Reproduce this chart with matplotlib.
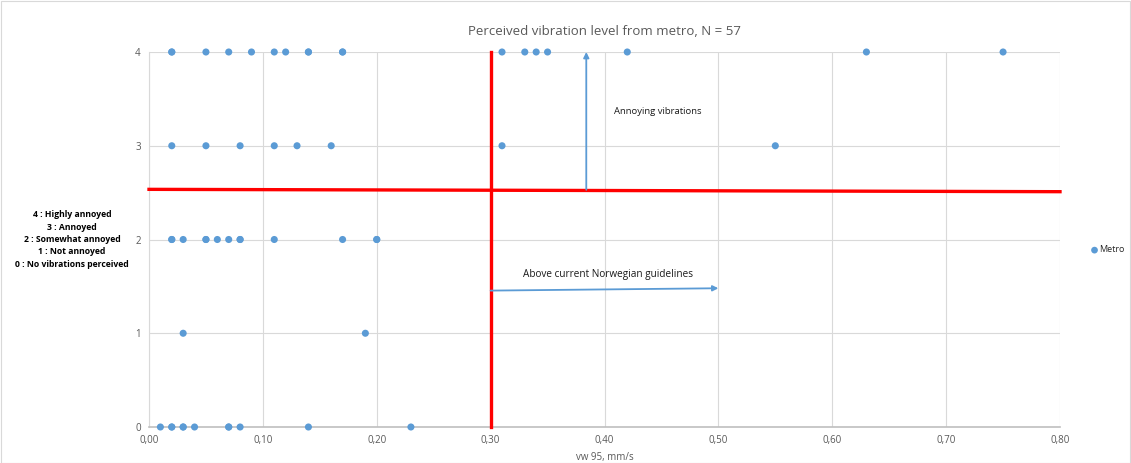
import numpy as np
import matplotlib.pyplot as plt
from matplotlib.patches import Rectangle

# data (vw95 in mm/s, annoyance level 0-4)
x4 = [0.02, 0.02, 0.05, 0.07, 0.09, 0.11, 0.12, 0.14, 0.14, 0.17, 0.17,
      0.31, 0.33, 0.34, 0.35, 0.42, 0.63, 0.75]
x3 = [0.02, 0.05, 0.08, 0.11, 0.13, 0.16, 0.31, 0.55]
x2 = [0.02, 0.02, 0.03, 0.05, 0.05, 0.06, 0.07, 0.08, 0.08, 0.11, 0.17, 0.20, 0.20]
x1 = [0.03, 0.19]
x0 = [0.01, 0.02, 0.02, 0.03, 0.03, 0.04, 0.07, 0.07, 0.08, 0.14, 0.23]

xs = np.array(x4 + x3 + x2 + x1 + x0)
ys = np.array([4]*len(x4) + [3]*len(x3) + [2]*len(x2) + [1]*len(x1) + [0]*len(x0))

xticks = np.arange(0, 0.81, 0.1)
xticklabels = ['0,00', '0,10', '0,20', '0,30', '0,40', '0,50', '0,60', '0,70', '0,80']
yticks = [0, 1, 2, 3, 4]

levels_txt = ['4 : Highly annoyed', '3 : Annoyed', '2 : Somewhat annoyed',
              '1 : Not annoyed', '0 : No vibrations perceived']

blue = '#5B9BD5'
red = '#FF0000'
grid_c = '#D9D9D9'
txt_c = '#595959'

plt.rcParams['font.family'] = ['Open Sans', 'DejaVu Sans']

fig = plt.figure(figsize=(11.31, 4.63), dpi=100)
ax = fig.add_axes([149/1131, 1 - 427/463, (1060 - 149)/1131, (427 - 52)/463])

ax.scatter(xs, ys, s=26, color=blue, zorder=4, clip_on=False, label='Metro',
           edgecolors='none')

ax.set_xlim(0, 0.8)
ax.set_ylim(0, 4)
ax.set_xticks(xticks)
ax.set_xticklabels(xticklabels)
ax.set_yticks(yticks)
ax.tick_params(length=0, labelsize=7, colors=txt_c, pad=6)
ax.grid(True, color=grid_c, lw=0.8)
ax.set_axisbelow(True)
for s in ['top', 'right']:
    ax.spines[s].set_visible(False)
ax.spines['left'].set_color(grid_c)
ax.spines['bottom'].set_color('#BFBFBF')
ax.spines['bottom'].set_linewidth(1.2)

# guideline lines
ax.plot([0.30, 0.30], [0, 4], color=red, lw=2.4, zorder=5, clip_on=False)
ax.plot([0.0, 0.8], [2.535, 2.51], color=red, lw=2.4, zorder=5, clip_on=False)

# arrows
ax.annotate('', xy=(0.384, 4.0), xytext=(0.384, 2.53),
            arrowprops=dict(arrowstyle='-|>', color=blue, lw=1.3,
                            mutation_scale=8, shrinkA=0, shrinkB=0), zorder=6)
ax.annotate('', xy=(0.50, 1.48), xytext=(0.30, 1.455),
            arrowprops=dict(arrowstyle='-|>', color=blue, lw=1.3,
                            mutation_scale=8, shrinkA=0, shrinkB=0), zorder=6)

ax.text(0.408, 3.37, 'Annoying vibrations', fontsize=6.8, color='#1a1a1a',
        va='center', ha='left')
ax.text(0.403, 1.63, 'Above current Norwegian guidelines', fontsize=7.2,
        color='#1a1a1a', va='center', ha='center')

ax.set_title('Perceived vibration level from metro, N = 57', fontsize=9.5,
             color=txt_c, pad=12)
ax.set_xlabel('vw 95, mm/s', fontsize=7, color=txt_c, labelpad=4)

# level description on the left
for i, t in enumerate(levels_txt):
    fig.text(72/1131, 1 - (215 + i*12.3)/463, t, fontsize=6.2, fontweight='bold',
             ha='center', va='center', color='black')

leg = ax.legend(loc='center left', bbox_to_anchor=(1090/1131, 1 - 250/463),
                bbox_transform=fig.transFigure, frameon=False, fontsize=6.5,
                handletextpad=0.0, markerscale=0.95, borderpad=0,
                handlelength=1.0, borderaxespad=0)
for t in leg.get_texts():
    t.set_color('#262626')

# chart border
fig.patches.append(Rectangle((0.5/1131, 0.5/463), 1 - 1.5/1131, 1 - 1.5/463,
                             transform=fig.transFigure, fill=False,
                             edgecolor='#D9D9D9', lw=0.8))

fig.savefig('out.png', dpi=100)
